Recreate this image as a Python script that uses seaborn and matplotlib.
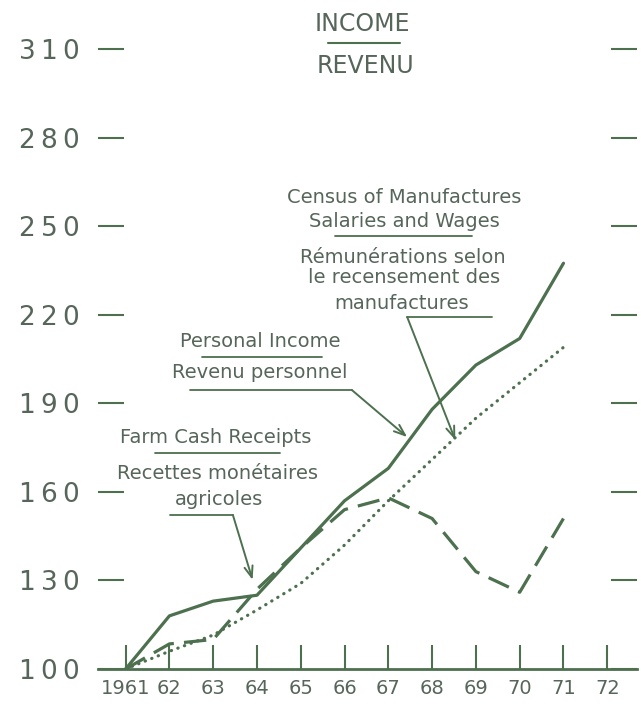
import matplotlib
matplotlib.use('Agg')
import pandas as pd
import seaborn as sns
from matplotlib import pyplot as plt
from matplotlib.ticker import FuncFormatter

# data (index, 1961 = 100)
years = [1961, 1962, 1963, 1964, 1965, 1966, 1967, 1968, 1969, 1970, 1971]
personal_income = [100, 118, 123, 125, 141, 157, 168, 188, 203, 212, 237.5]
farm_cash = [100, 108.5, 110, 127, 141, 154, 158, 151, 133, 126, 151]
census_wages = [100, 106, 111.5, 120, 129, 142, 157, 171, 185, 197, 209]

x_ticks = list(range(1961, 1973))
x_labels = ['1961', '62', '63', '64', '65', '66', '67', '68', '69', '70', '71', '72']
y_ticks = [100, 130, 160, 190, 220, 250, 280, 310]

line_color = '#4d704f'
text_color = '#56665a'

sns.set_style('white')
plt.rcParams['font.family'] = ['DejaVu Sans']

df = pd.DataFrame({'year': years, 'personal': personal_income,
                   'farm': farm_cash, 'census': census_wages})

fig = plt.figure(figsize=(6.41, 7.06), dpi=100)
ax = fig.add_axes([0.1529, 0.0524, 0.8409, 0.9196])

sns.lineplot(data=df, x='year', y='personal', ax=ax, color=line_color, linewidth=2.3)
sns.lineplot(data=df, x='year', y='farm', ax=ax, color=line_color, linewidth=2.3,
             linestyle=(0, (7, 3.2)))
sns.lineplot(data=df, x='year', y='census', ax=ax, color=line_color, linewidth=2.3,
             linestyle=(0, (0.1, 2.1)), dash_capstyle='round')

ax.set_xlim(1960.37, 1972.68)
ax.set_ylim(100, 320)
ax.set_xticks(x_ticks)
ax.set_xticklabels(x_labels)
ax.set_yticks(y_ticks)
ax.yaxis.set_major_formatter(FuncFormatter(lambda v, p: '\u2009'.join(str(int(v)))))
ax.set_xlabel('')
ax.set_ylabel('')

sns.despine(ax=ax, left=True, right=True, top=True)
ax.spines['bottom'].set_color(line_color)
ax.spines['bottom'].set_linewidth(2)

ax.tick_params(axis='x', direction='in', length=17, width=1.5, color=line_color,
               labelsize=14, labelcolor=text_color, pad=7, bottom=True)
ax.tick_params(axis='y', direction='in', length=19, width=1.5, color=line_color,
               labelsize=19, labelcolor=text_color, pad=13, left=True, right=True,
               labelright=False)

# title
ax.text(1966.40, 318.5, 'INCOME', ha='center', va='center', fontsize=17, color=text_color)
ax.plot([1965.62, 1967.27], [312.1, 312.1], color=line_color, lw=1.5, clip_on=False)
ax.text(1966.47, 304.5, 'REVENU', ha='center', va='center', fontsize=17, color=text_color)

arrow = dict(arrowstyle='->, head_length=0.8, head_width=0.3', color=line_color, lw=1.4,
             shrinkA=0, shrinkB=0)
fs = 14

# census of manufactures label
ax.text(1967.36, 259.9, 'Census of Manufactures', ha='center', va='center', fontsize=fs, color=text_color)
ax.text(1967.36, 251.8, 'Salaries and Wages', ha='center', va='center', fontsize=fs, color=text_color)
ax.plot([1965.78, 1968.92], [246.7, 246.7], color=line_color, lw=1.3)
ax.text(1967.32, 239.3, 'Rémunérations selon', ha='center', va='center', fontsize=fs, color=text_color)
ax.text(1967.36, 232.5, 'le recensement des', ha='center', va='center', fontsize=fs, color=text_color)
ax.text(1967.30, 224.0, 'manufactures', ha='center', va='center', fontsize=fs, color=text_color)
ax.plot([1967.43, 1969.37], [219.3, 219.3], color=line_color, lw=1.3)
ax.annotate('', xy=(1968.53, 177.6), xytext=(1967.43, 219.3), arrowprops=arrow)

# personal income label
ax.text(1964.07, 211.1, 'Personal Income', ha='center', va='center', fontsize=fs, color=text_color)
ax.plot([1962.74, 1965.49], [205.7, 205.7], color=line_color, lw=1.3)
ax.text(1964.07, 200.6, 'Revenu personnel', ha='center', va='center', fontsize=fs, color=text_color)
ax.plot([1962.47, 1966.17], [194.5, 194.5], color=line_color, lw=1.3)
ax.annotate('', xy=(1967.43, 178.6), xytext=(1966.17, 194.5), arrowprops=arrow)

# farm cash receipts label
ax.text(1963.06, 178.3, 'Farm Cash Receipts', ha='center', va='center', fontsize=fs, color=text_color)
ax.plot([1961.67, 1964.53], [173.2, 173.2], color=line_color, lw=1.3)
ax.text(1963.09, 166.1, 'Recettes monétaires', ha='center', va='center', fontsize=fs, color=text_color)
ax.text(1963.13, 157.3, 'agricoles', ha='center', va='center', fontsize=fs, color=text_color)
ax.plot([1962.01, 1963.45], [152.2, 152.2], color=line_color, lw=1.3)
ax.annotate('', xy=(1963.90, 130.2), xytext=(1963.45, 152.2), arrowprops=arrow)

fig.savefig('out.png', dpi=100)
